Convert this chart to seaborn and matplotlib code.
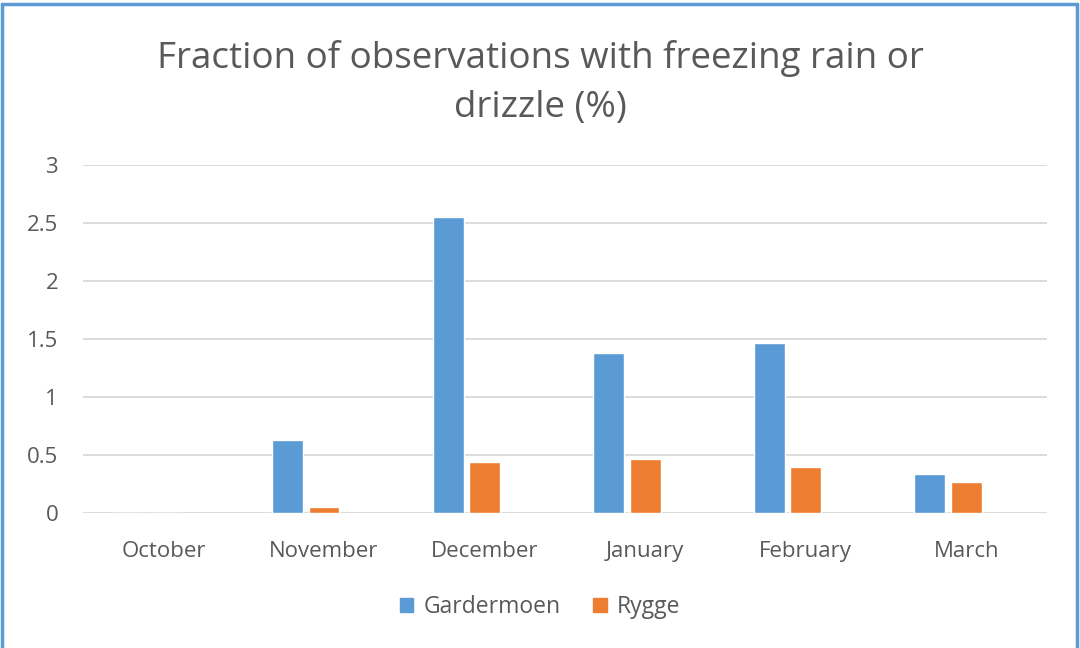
import numpy as np
import pandas as pd
import matplotlib.pyplot as plt
import seaborn as sns
from matplotlib.patches import Patch
from matplotlib.lines import Line2D

months = ["October", "November", "December", "January", "February", "March"]
gardermoen = [0.0, 0.63, 2.55, 1.38, 1.47, 0.34]
rygge = [0.0, 0.05, 0.44, 0.47, 0.40, 0.27]
# third (empty) series in the original chart, keeps its slot
empty = [np.nan] * 6

df = pd.DataFrame({
    "month": months * 3,
    "station": ["Gardermoen"] * 6 + ["Rygge"] * 6 + ["_blank"] * 6,
    "value": gardermoen + rygge + empty,
})

sns.set_style("white")
plt.rcParams["font.family"] = ["Open Sans", "DejaVu Sans"]

blue = "#5b9bd5"
orange = "#ed7d31"
grey = "#595959"

fig = plt.figure(figsize=(10.8, 6.48), dpi=100)
ax = fig.add_axes([0.077, 0.208, 0.892, 0.537])

sns.barplot(data=df, x="month", y="value", hue="station",
            hue_order=["Gardermoen", "Rygge", "_blank"],
            palette=[blue, orange, "white"], width=0.68, gap=0.15,
            legend=False, ax=ax, saturation=1)

ax.set_ylim(0, 3)
ax.set_xlim(-0.5, 5.5)
ax.set_yticks([0, 0.5, 1, 1.5, 2, 2.5, 3])
ax.set_yticklabels(["0", "0.5", "1", "1.5", "2", "2.5", "3"])
ax.grid(axis="y", color="#d9d9d9", linewidth=1.3)
ax.set_axisbelow(True)
for s in ax.spines.values():
    s.set_visible(False)
ax.tick_params(axis="both", length=0, labelsize=16, labelcolor=grey)
ax.tick_params(axis="y", pad=18)
ax.tick_params(axis="x", pad=20)
ax.set_xlabel("")
ax.set_ylabel("")

fig.text(0.5, 0.872, "Fraction of observations with freezing rain or\ndrizzle (%)",
         ha="center", va="center", fontsize=26.5, color=grey, linespacing=1.45)

handles = [Patch(color=blue, label="Gardermoen"), Patch(color=orange, label="Rygge")]
fig.legend(handles=handles, loc="center", bbox_to_anchor=(0.5, 0.063), ncol=2,
           frameon=False, fontsize=16.5, labelcolor=grey, handlelength=0.6,
           handleheight=0.6, handletextpad=0.45, columnspacing=1.4)

# blue frame around the chart (bottom edge is cut off in the original)
for xs, ys in [([0.002, 0.002], [0, 0.994]), ([0.002, 0.997], [0.994, 0.994]),
               ([0.997, 0.997], [0.994, 0])]:
    fig.add_artist(Line2D(xs, ys, transform=fig.transFigure, color=blue, linewidth=2.5))

fig.savefig("out.png", dpi=100)
